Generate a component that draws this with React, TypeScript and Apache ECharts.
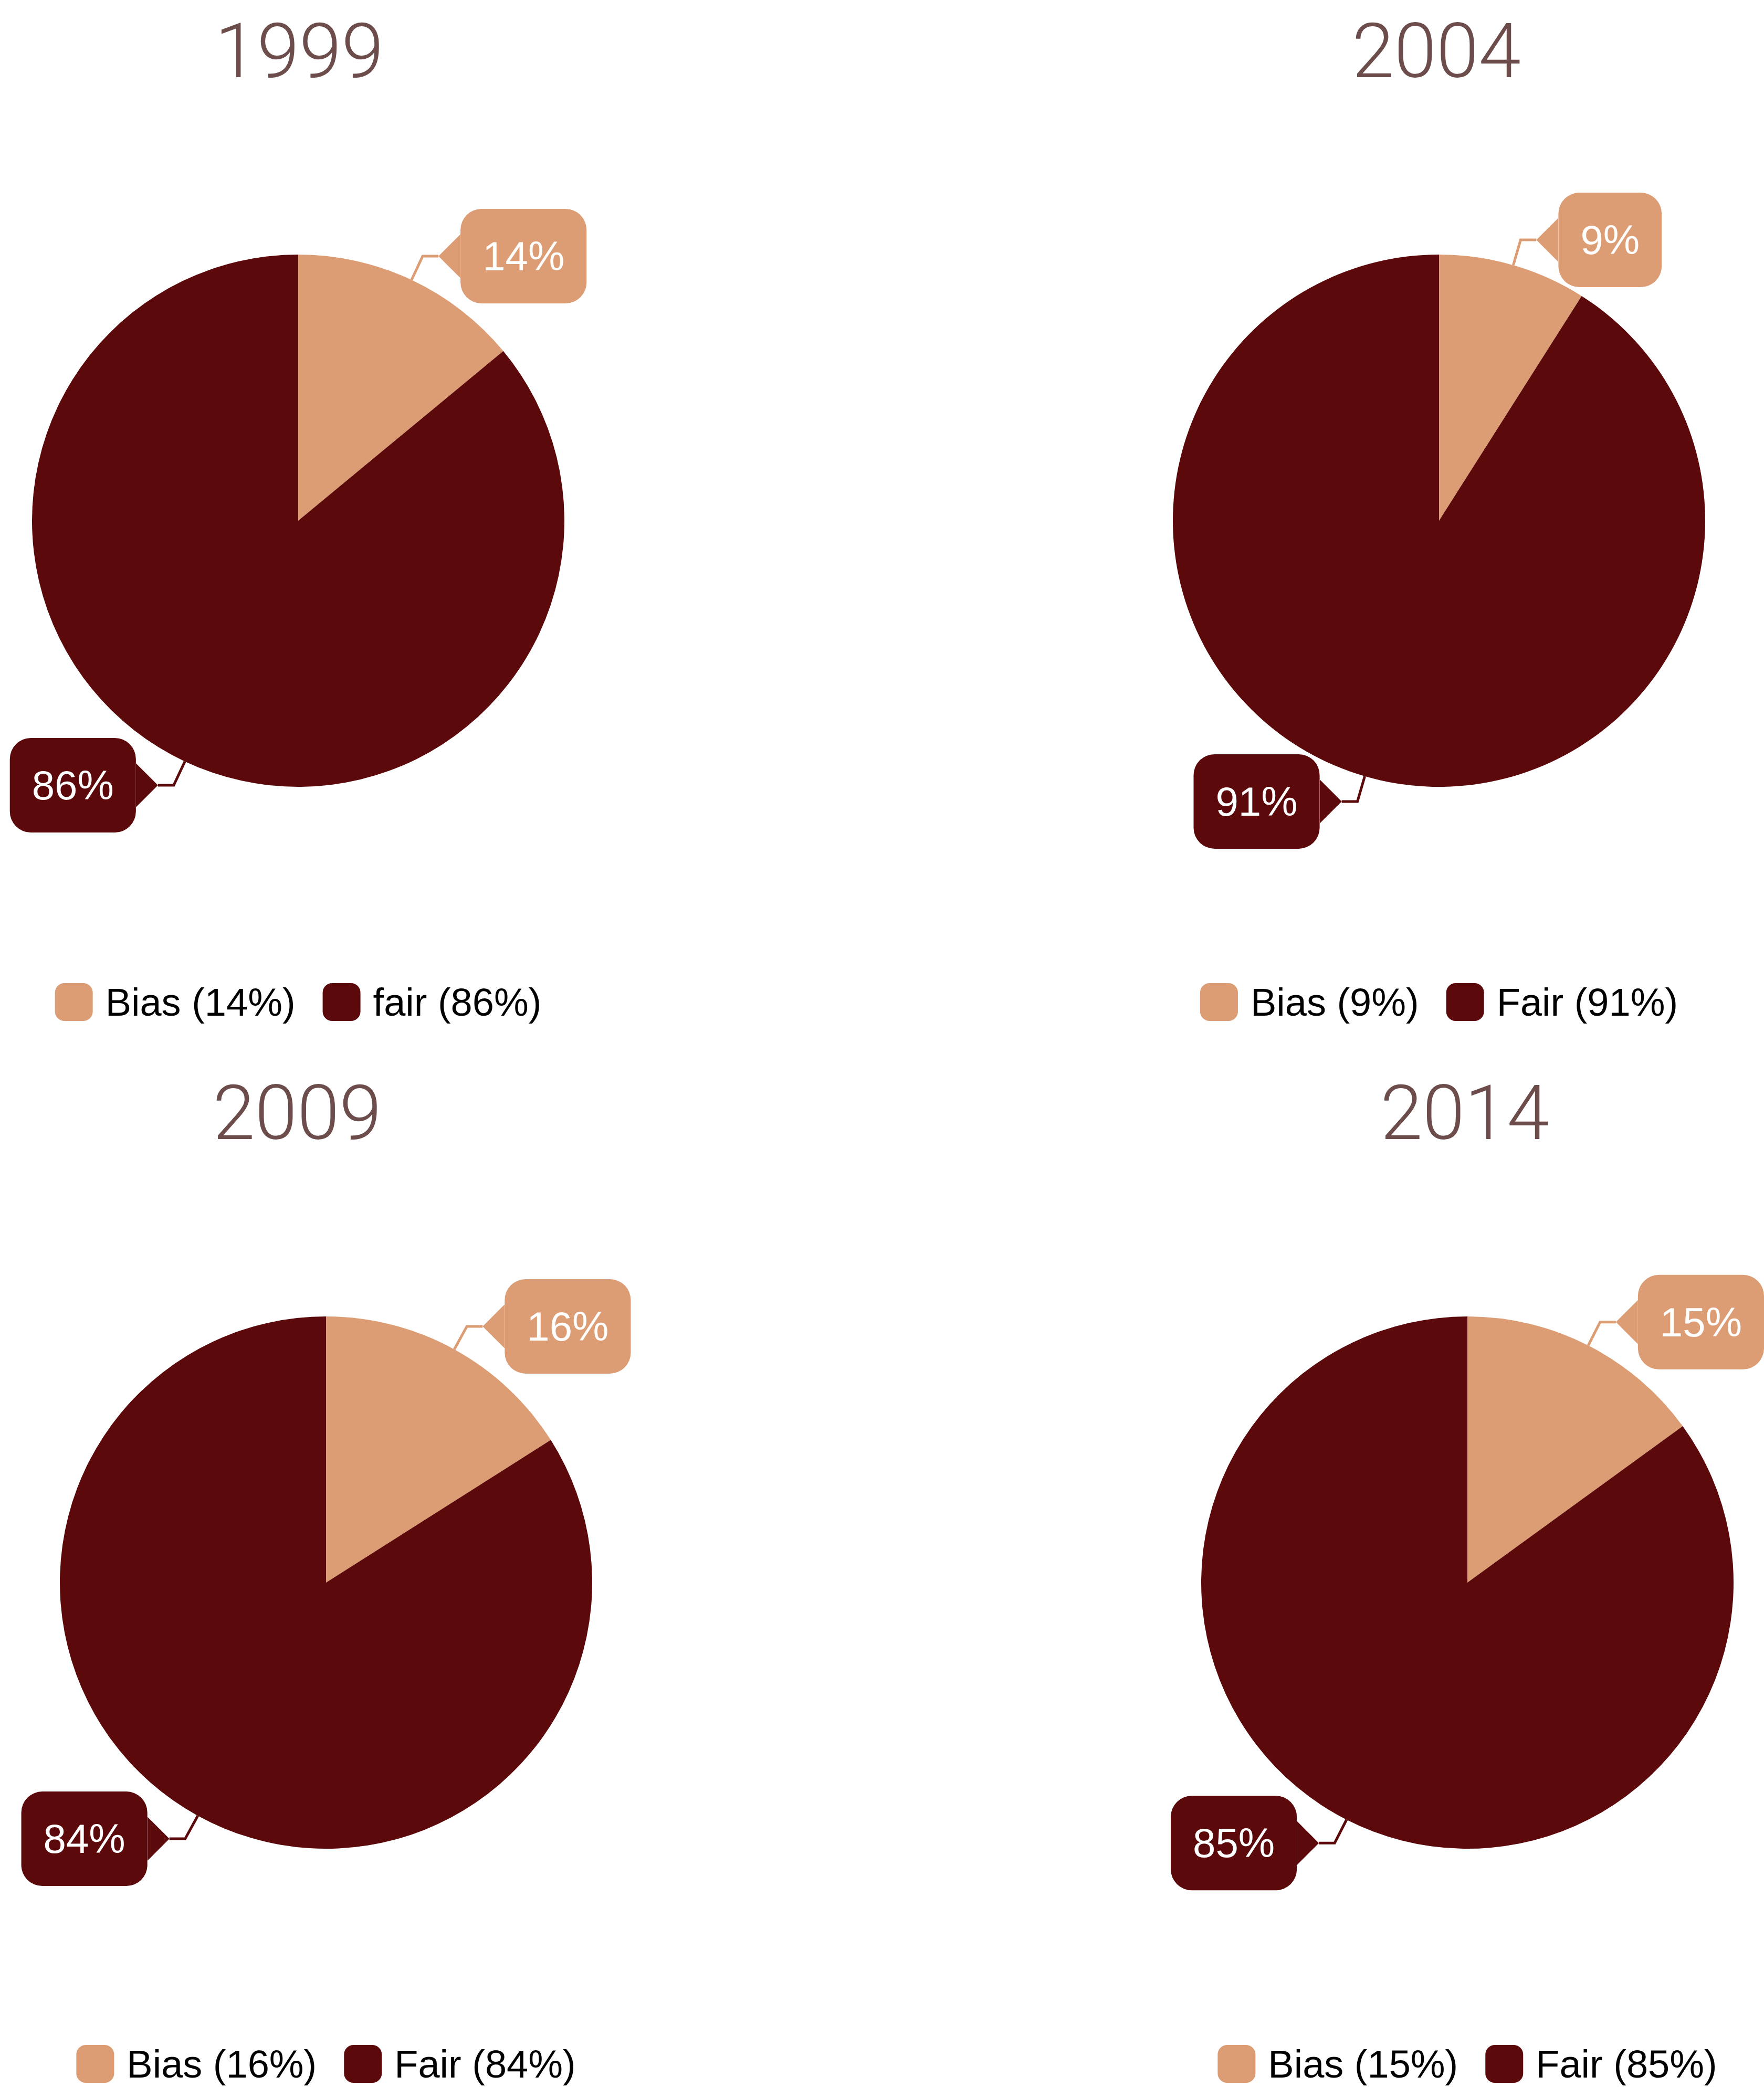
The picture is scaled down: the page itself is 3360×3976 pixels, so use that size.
import React, { useEffect, useRef } from 'react';
import * as echarts from 'echarts';

const years = ['1999', '2004', '2009', '2014'];
const biasValues = [14, 9, 16, 15];
const fairValues = [86, 91, 84, 85];
const biasNames = ['Bias (14%)', 'Bias (9%)', 'Bias (16%)', 'Bias (15%)'];
const fairNames = ['fair (86%)', 'Fair (91%)', 'Fair (84%)', 'Fair (85%)'];

const BIAS = '#DC9C74';
const FAIR = '#5C090B';
const TITLE = '#6D4C4C';
const SANS = '"Liberation Sans", Arial, Helvetica, sans-serif';

const PANEL_W = 1300;
const panelCenterX = [568, 2741, 621, 2795];
const titleCenterX = [570, 2736, 566, 2790];
const panelTop = [0, 0, 2023, 2023];
const PANEL_H = 1953;

function arrowUrl(color: string, pointLeft: boolean) {
  const pts = pointLeft ? '42,0 0,42 42,84' : '0,0 42,42 0,84';
  const svg = `<svg xmlns="http://www.w3.org/2000/svg" width="42" height="84" viewBox="0 0 42 84"><polygon points="${pts}" fill="${color}"/></svg>`;
  return 'data:image/svg+xml;charset=utf-8,' + encodeURIComponent(svg);
}

function boxStyle(color: string) {
  return {
    backgroundColor: color,
    borderRadius: 40,
    padding: [51, 42, 51, 42],
    color: '#ffffff',
    fontSize: 78,
    lineHeight: 78,
    fontFamily: SANS,
  };
}

function buildOption(i: number) {
  const panelLeft = panelCenterX[i] - PANEL_W / 2;
  return {
    animation: false,
    title: {
      text: years[i],
      left: titleCenterX[i] - panelLeft,
      textAlign: 'center',
      top: 24,
      padding: 0,
      textStyle: {
        color: TITLE,
        fontFamily: 'Roboto, "Liberation Sans", sans-serif',
        fontWeight: 300,
        fontSize: 145,
      },
    },
    legend: {
      left: 'center',
      top: 1872,
      padding: 0,
      itemWidth: 72,
      itemHeight: 72,
      itemGap: 52,
      icon: 'roundRect',
      selectedMode: false,
      textStyle: {
        fontSize: 74,
        color: '#000000',
        fontFamily: SANS,
        padding: [0, 0, 0, 19],
      },
      data: [biasNames[i], fairNames[i]],
    },
    series: [
      {
        type: 'pie',
        center: ['50%', 992],
        radius: 507,
        startAngle: 90,
        clockwise: true,
        avoidLabelOverlap: false,
        silent: true,
        emphasis: { disabled: true },
        labelLine: {
          show: true,
          length: 50,
          length2: 30,
          smooth: false,
          lineStyle: { width: 5 },
        },
        label: {
          show: true,
          position: 'outside',
          distanceToLabelLine: 0,
        },
        data: [
          {
            name: biasNames[i],
            value: biasValues[i],
            itemStyle: { color: BIAS },
            label: {
              formatter: `{ar|}{bx|${biasValues[i]}%}`,
              rich: {
                ar: { width: 42, height: 84, backgroundColor: { image: arrowUrl(BIAS, true) } },
                bx: boxStyle(BIAS),
              },
            },
          },
          {
            name: fairNames[i],
            value: fairValues[i],
            itemStyle: { color: FAIR },
            label: {
              formatter: `{bx|${fairValues[i]}%}{ar|}`,
              rich: {
                ar: { width: 42, height: 84, backgroundColor: { image: arrowUrl(FAIR, false) } },
                bx: boxStyle(FAIR),
              },
            },
          },
        ],
      },
    ],
  };
}

function PiePanel({ index }: { index: number }) {
  const ref = useRef<HTMLDivElement>(null);
  useEffect(() => {
    if (!ref.current) return;
    const chart = echarts.init(ref.current, undefined, { renderer: 'svg' });
    chart.setOption(buildOption(index) as any);
    return () => chart.dispose();
  }, [index]);
  return (
    <div
      ref={ref}
      style={{
        position: 'absolute',
        left: panelCenterX[index] - PANEL_W / 2,
        top: panelTop[index],
        width: PANEL_W,
        height: PANEL_H,
      }}
    />
  );
}

export default function App() {
  return (
    <div
      style={{
        position: 'absolute',
        left: 0,
        top: 0,
        width: 3360,
        height: 3976,
        overflow: 'hidden',
        background: '#ffffff',
      }}
    >
      {years.map((_, i) => (
        <PiePanel key={i} index={i} />
      ))}
    </div>
  );
}
